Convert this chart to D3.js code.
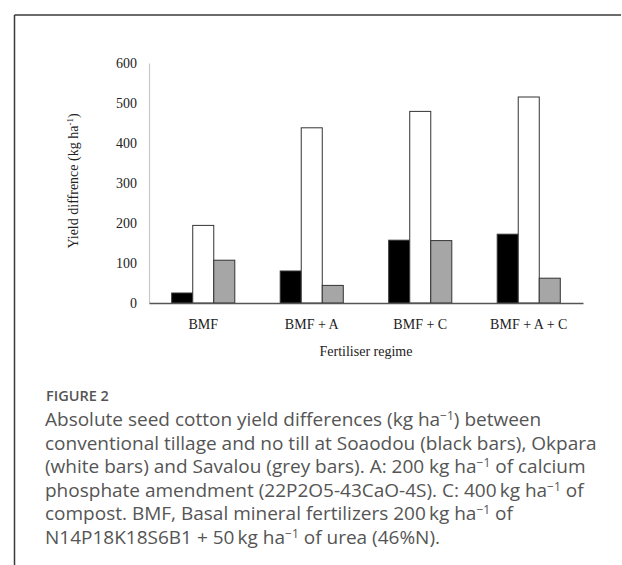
<!DOCTYPE html>
<html>
<head>
<meta charset="utf-8">
<script src="https://cdn.jsdelivr.net/npm/d3@7"></script>
<style>
  html, body { margin: 0; padding: 0; background: #fff; }
  svg { display: block; }
</style>
</head>
<body>
<svg id="chart" width="622" height="565"></svg>
<script>
// ---- data ----
const categories = ["BMF", "BMF + A", "BMF + C", "BMF + A + C"];
const seriesNames = ["Soaodou", "Okpara", "Savalou"];
const soaodou = [25, 80, 157, 172];
const okpara = [194, 438, 479, 515];
const savalou = [107, 44, 156, 62];
const yTicks = [0, 100, 200, 300, 400, 500, 600];
const seriesFill = ["#000000", "#ffffff", "#a6a6a6"];
const captionTitle = "FIGURE 2";
const captionLines = [
  ["Absolute seed cotton yield differences (kg ha", "\u22121", ") between"],
  ["conventional tillage and no till at Soaodou (black bars), Okpara"],
  ["(white bars) and Savalou (grey bars). A: 200 kg ha", "\u22121", " of calcium"],
  ["phosphate amendment (22P2O5-43CaO-4S). C: 400\u2009kg ha", "\u22121", " of"],
  ["compost. BMF, Basal mineral fertilizers 200\u2009kg ha", "\u22121", " of"],
  ["N14P18K18S6B1 + 50\u2009kg ha", "\u22121", " of urea (46%N)."]
];

const seriesValues = [soaodou, okpara, savalou];

const svg = d3.select("#chart");

// frame lines
svg.append("line").attr("x1", 14.5).attr("x2", 621).attr("y1", 15).attr("y2", 15)
  .attr("stroke", "#3a3a3a").attr("stroke-width", 1.5);
svg.append("line").attr("x1", 14.5).attr("x2", 14.5).attr("y1", 15).attr("y2", 565)
  .attr("stroke", "#3a3a3a").attr("stroke-width", 1.5);

// scales
const plot = { left: 149, right: 583, top: 63, bottom: 303 };
const x0 = d3.scaleBand().domain(categories).range([plot.left, plot.right]).padding(0);
const x1 = d3.scaleBand().domain(seriesNames).range([0, x0.bandwidth()]).paddingInner(0).paddingOuter(1.08);
const y = d3.scaleLinear().domain([0, 600]).range([plot.bottom, plot.top]);

const serif = "'Liberation Serif', 'Times New Roman', serif";

// y axis
const yAxis = d3.axisLeft(y).tickValues(yTicks).tickSize(0).tickPadding(12).tickFormat(d3.format("d"));
const gy = svg.append("g").attr("transform", `translate(${plot.left},0)`).call(yAxis);
gy.select(".domain").attr("stroke", "#c8c8c8").attr("stroke-width", 1.2);
gy.selectAll("text").attr("font-family", serif).attr("font-size", 14).attr("fill", "#222");

// bars
const groups = svg.append("g").selectAll("g").data(categories).join("g")
  .attr("transform", d => `translate(${x0(d)},0)`);
groups.selectAll("rect")
  .data((c, i) => seriesNames.map((s, j) => ({ s, j, v: seriesValues[j][i] })))
  .join("rect")
  .attr("x", d => x1(d.s))
  .attr("width", x1.bandwidth())
  .attr("y", d => y(d.v))
  .attr("height", d => y(0) - y(d.v))
  .attr("fill", d => seriesFill[d.j])
  .attr("stroke", "#333")
  .attr("stroke-width", 1);

// x axis
const xAxis = d3.axisBottom(x0).tickSize(0).tickPadding(16);
const gx = svg.append("g").attr("transform", `translate(0,${plot.bottom})`).call(xAxis);
gx.select(".domain").attr("stroke", "#555").attr("stroke-width", 1.3);
gx.selectAll("text").attr("font-family", serif).attr("font-size", 14).attr("fill", "#222");

// axis titles
svg.append("text").attr("x", (plot.left + plot.right) / 2).attr("y", 356)
  .attr("text-anchor", "middle").attr("font-family", serif).attr("font-size", 14).attr("fill", "#222")
  .text("Fertiliser regime");

const yt = svg.append("text")
  .attr("transform", "translate(78,181) rotate(-90)")
  .attr("text-anchor", "middle").attr("font-family", serif).attr("font-size", 14).attr("fill", "#222");
yt.append("tspan").text("Yield diffrence (kg ha");
yt.append("tspan").attr("dy", -5).attr("font-size", 9).text("-1");
yt.append("tspan").attr("dy", 5).text(")");

// caption
const sans = "'Open Sans', 'Noto Sans', sans-serif";
svg.append("text").attr("x", 46).attr("y", 401)
  .attr("font-family", sans).attr("font-size", 14.5).attr("font-weight", 600)
  .attr("fill", "#555").text(captionTitle);

captionLines.forEach((parts, i) => {
  const t = svg.append("text").attr("x", 45).attr("y", 426 + i * 23.5)
    .attr("font-family", sans).attr("font-size", 19).attr("fill", "#555");
  parts.forEach((p, k) => {
    if (k === 1) {
      t.append("tspan").attr("dy", -6).attr("font-size", 12).text(p);
    } else if (k === 2) {
      t.append("tspan").attr("dy", 6).text(p);
    } else {
      t.append("tspan").text(p);
    }
  });
});
</script>
</body>
</html>
